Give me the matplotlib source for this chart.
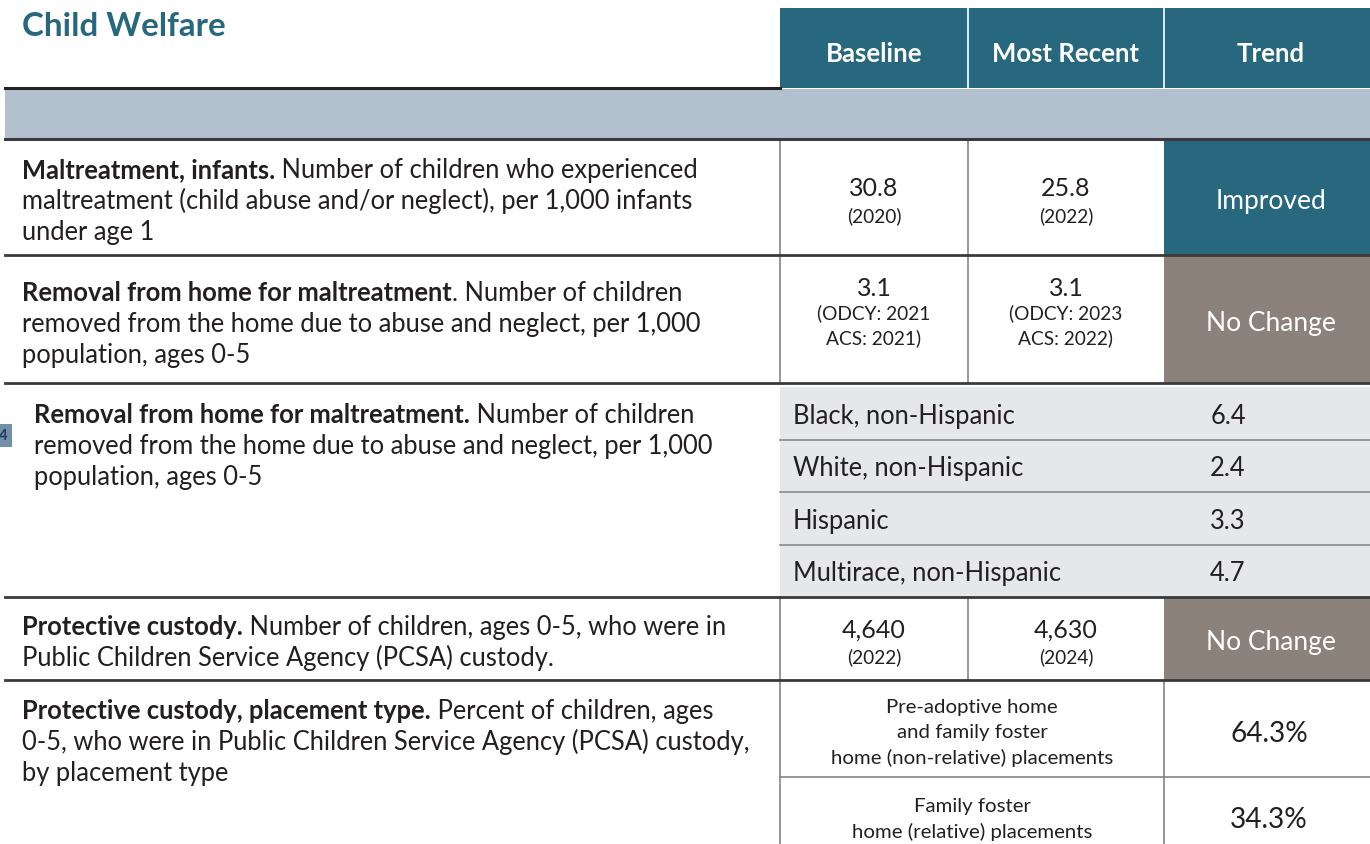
import matplotlib
matplotlib.use('Agg')
import matplotlib.pyplot as plt
from matplotlib.patches import Rectangle

plt.rcParams['font.family'] = ['Lato', 'DejaVu Sans']

# ---- table content ----
title = 'Child Welfare'
headers = ['Baseline', 'Most Recent', 'Trend']

# each indicator: (bold lead, rest of first line, following lines)
indicators = [
    ('Maltreatment, infants.', ' Number of children who experienced',
     ['maltreatment (child abuse and/or neglect), per 1,000 infants', 'under age 1']),
    ('Removal from home for maltreatment', '. Number of children',
     ['removed from the home due to abuse and neglect, per 1,000', 'population, ages 0-5']),
    ('Removal from home for maltreatment.', ' Number of children',
     ['removed from the home due to abuse and neglect, per 1,000', 'population, ages 0-5']),
    ('Protective custody.', ' Number of children, ages 0-5, who were in',
     ['Public Children Service Agency (PCSA) custody.']),
    ('Protective custody, placement type.', ' Percent of children, ages',
     ['0-5, who were in Public Children Service Agency (PCSA) custody,', 'by placement type']),
]

baseline_vals = ['30.8', '3.1', '4,640']
baseline_years = [['(2020)'], ['(ODCY: 2021', 'ACS: 2021)'], ['(2022)']]
recent_vals = ['25.8', '3.1', '4,630']
recent_years = [['(2022)'], ['(ODCY: 2023', 'ACS: 2022)'], ['(2024)']]
trends = ['Improved', 'No Change', 'No Change']

race_groups = ['Black, non-Hispanic', 'White, non-Hispanic', 'Hispanic', 'Multirace, non-Hispanic']
race_rates = [6.4, 2.4, 3.3, 4.7]

placement_types = [['Pre-adoptive home', 'and family foster', 'home (non-relative) placements'],
                   ['Family foster', 'home (relative) placements']]
placement_pct = [64.3, 34.3]

# ---- styling ----
TEAL = '#27687f'
GREY = '#8b827b'
BAND = '#b3c1cf'
SUBFILL = '#e6e7e8'
INK = '#231f20'
LINE = '#3a3a3a'
THIN = '#7a7a7a'

W, H = 1370, 844
fig = plt.figure(figsize=(W / 100, H / 100), dpi=100)
ax = fig.add_axes([0, 0, 1, 1])
ax.set_xlim(0, W)
ax.set_ylim(H, 0)
ax.axis('off')
renderer = fig.canvas.get_renderer()


def fit_size(s, target_px, weight='normal', base=16):
    # font size that makes string s about target_px wide
    t = ax.text(0, 0, s, fontsize=base, fontweight=weight)
    w = t.get_window_extent(renderer).width
    t.remove()
    return base * target_px / w


BODY = fit_size('maltreatment (child abuse and/or neglect), per 1,000 infants', 676)
TITLE = fit_size(title, 204, 'bold')
HEAD = fit_size('Most Recent', 147, 'bold')
TREND = fit_size('No Change', 130)
VAL = fit_size('4,640', 64)
SMALL = fit_size('(ODCY: 2021', 114)
PLACE = fit_size('home (non-relative) placements', 283)
PCT = fit_size('64.3%', 78)

# column edges (trend column runs a little past the crop on the right)
x_left, x_c1, x_c2, x_c3, x_right = 5, 780, 968, 1164, W
trend_xc = 1271
# row edges
row_y = [139, 255, 383, 597, 680, 844]
trend_colors = {'Improved': TEAL, 'No Change': GREY}


def rich_line(x, y, bold, rest, size):
    t = ax.text(x, y, bold, fontsize=size, fontweight='bold', color=INK, va='baseline')
    w = t.get_window_extent(renderer).width
    ax.text(x + w, y, rest, fontsize=size, color=INK, va='baseline')


# title and header
ax.text(22, 27, title, fontsize=TITLE, fontweight='bold', color=TEAL, va='center')
ax.add_patch(Rectangle((x_c1, 8), x_right - x_c1, 80, color=TEAL, lw=0))
for xs in (x_c2, x_c3):
    ax.plot([xs, xs], [8, 88], color='white', lw=1.2)
for h, xc in zip(headers, [(x_c1 + x_c2) / 2, (x_c2 + x_c3) / 2, trend_xc]):
    ax.text(xc, 54, h, fontsize=HEAD, fontweight='bold', color='white',
            ha='center', va='center')
ax.plot([x_left, x_c1], [88, 88], color='#222222', lw=2.2)
ax.add_patch(Rectangle((x_left, 89), x_right - x_left, 50, color=BAND, lw=0))

# subgroup block background
sub_top, sub_h = 387, (row_y[3] - 387) / len(race_groups)
ax.add_patch(Rectangle((x_c1, sub_top), x_right - x_c1, row_y[3] - sub_top, color=SUBFILL, lw=0))
for i in range(1, len(race_groups)):
    yy = sub_top + i * sub_h
    ax.plot([x_c1, x_right], [yy, yy], color='#8a8a8a', lw=1.2)
for i, (g, r) in enumerate(zip(race_groups, race_rates)):
    yc = sub_top + (i + 0.5) * sub_h + 3
    ax.text(793, yc, g, fontsize=BODY, color=INK, va='center')
    ax.text(1228, yc, f'{r:.1f}', fontsize=BODY, color=INK, va='center', ha='center')

# baseline / most recent / trend for rows 0, 1, 3
value_rows = [0, 1, 3]
for k, r in enumerate(value_rows):
    y0, y1 = row_y[r], row_y[r + 1]
    yc = (y0 + y1) / 2
    ax.add_patch(Rectangle((x_c3, y0), x_right - x_c3, y1 - y0, color=trend_colors[trends[k]], lw=0))
    ax.text(trend_xc, yc + 4, trends[k], fontsize=TREND,
            color='white', ha='center', va='center')
    for xc, val, yrs in [((x_c1 + x_c2) / 2, baseline_vals[k], baseline_years[k]),
                         ((x_c2 + x_c3) / 2, recent_vals[k], recent_years[k])]:
        n = len(yrs)
        for j, s in enumerate(yrs):
            ax.text(xc, yc + 19 - 25 * (n - 1 - j), s, fontsize=SMALL, color=INK,
                    ha='center', va='center')
        ax.text(xc, yc + 19 - 25 * (n - 1) - (27 if n == 1 else 25), val, fontsize=VAL,
                color=INK, ha='center', va='center')
    for xs in (x_c1, x_c2):
        ax.plot([xs, xs], [y0, y1], color=THIN, lw=1.1)

# placement type block
y0, y1 = row_y[4], row_y[5]
ymid = 777
ax.plot([x_c1, x_c1], [y0, y1], color=THIN, lw=1.1)
ax.plot([x_c3, x_c3], [y0, y1], color=THIN, lw=1.1)
ax.plot([x_c1, x_right], [ymid, ymid], color=THIN, lw=1.1)
for (ya, yb), lines, pct in zip([(y0, ymid), (ymid, y1 + 10)], placement_types, placement_pct):
    yc = (ya + yb) / 2 + 4
    n = len(lines)
    for j, s in enumerate(lines):
        ax.text((x_c1 + x_c3) / 2, yc + (j - (n - 1) / 2) * 25.5, s, fontsize=PLACE,
                color=INK, ha='center', va='center')
    ax.text(1269, yc + 1, f'{pct:.1f}%', fontsize=PCT, color=INK,
            ha='center', va='center')

# left column indicator text
text_x = [22, 22, 34, 22, 22]
first_base = [178, 301, 423, 635, 719]
for (bold, rest, more), tx, yb in zip(indicators, text_x, first_base):
    rich_line(tx, yb, bold, rest, BODY)
    for j, s in enumerate(more):
        ax.text(tx, yb + 31 * (j + 1), s, fontsize=BODY, color=INK, va='baseline')

# row separators
ax.plot([x_left, x_right], [row_y[0], row_y[0]], color=LINE, lw=2.2)
for yy in row_y[1:5]:
    ax.plot([x_left, x_right], [yy, yy], color=LINE, lw=2.0)

# page marker at left edge
ax.add_patch(Rectangle((-6, 424), 18, 23, color='#7390aa', lw=0))
ax.text(3, 436, '4', fontsize=11, fontweight='bold', color='#1f3f5a', ha='center', va='center')

fig.savefig('out.png', dpi=100)
